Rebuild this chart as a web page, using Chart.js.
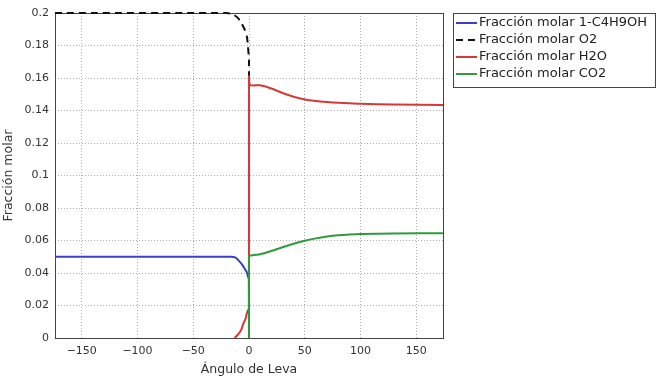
<!DOCTYPE html>
<html>
<head>
<meta charset="utf-8">
<script src="https://cdn.jsdelivr.net/npm/chart.js@4"></script>
<style>
  body { margin: 0; background: #fff; }
</style>
</head>
<body>
<canvas id="chart" width="657" height="379"></canvas>
<script>
// Datos (ángulo de leva vs fracción molar)
const butanolX = [-174, -16, -12, -9, -6, -4, -2, -1, 0, 0];
const butanolY = [0.05, 0.05, 0.0495, 0.0475, 0.045, 0.0428, 0.0405, 0.038, 0.036, 0];

const o2X = [-174, -20, -14, -10, -7, -4, -2, -1, 0, 0];
const o2Y = [0.2, 0.2, 0.199, 0.197, 0.194, 0.19, 0.186, 0.18, 0.17, 0];

const h2oX = [-13, -10, -7, -5, -3, -2, -1, 0, 0, 1, 10, 20, 30, 40, 50, 60, 70, 80, 90, 100, 130, 174];
const h2oY = [0, 0.002, 0.005, 0.009, 0.012, 0.015, 0.017, 0.018, 0.161, 0.1557, 0.1555, 0.1535, 0.1508, 0.1485, 0.1468, 0.1458, 0.1452, 0.1448, 0.1444, 0.1441, 0.1437, 0.1434];

const co2X = [0, 0, 2, 10, 20, 30, 40, 50, 60, 70, 80, 90, 100, 130, 174];
const co2Y = [0, 0.0505, 0.0508, 0.0515, 0.0535, 0.0558, 0.058, 0.0598, 0.0613, 0.0624, 0.0632, 0.0637, 0.064, 0.0643, 0.0645];

const seriesLabels = ['Fracción molar 1-C4H9OH', 'Fracción molar O2', 'Fracción molar H2O', 'Fracción molar CO2'];
const seriesColors = ['#3b3fc4', '#111111', '#d23a3a', '#2f9a3e'];
const xTicks = [-150, -100, -50, 0, 50, 100, 150];

function toPoints(xs, ys) {
    return xs.map((x, i) => ({ x: x, y: ys[i] }));
}

const FONT = { family: '"DejaVu Sans", sans-serif', size: 11 };
const TITLE_FONT = { family: '"DejaVu Sans", sans-serif', size: 12.5 };

// marco del área de trazado (debajo de las curvas)
const framePlugin = {
    id: 'frame',
    beforeDatasetsDraw(chart) {
        const ctx = chart.ctx;
        const a = chart.chartArea;
        ctx.save();
        ctx.strokeStyle = '#444';
        ctx.lineWidth = 1;
        ctx.strokeRect(a.left + 0.5, a.top + 0.5, a.right - a.left, a.bottom - a.top);
        ctx.restore();
    },
    // leyenda dibujada a mano
    afterDraw(chart) {
        const ctx = chart.ctx;
        const lx = 453, ly = 13, lw = 202, lh = 74;
        ctx.save();
        ctx.fillStyle = '#fff';
        ctx.fillRect(lx, ly, lw, lh);
        ctx.strokeStyle = '#444';
        ctx.lineWidth = 1;
        ctx.strokeRect(lx + 0.5, ly + 0.5, lw, lh);
        ctx.font = '13px "DejaVu Sans", sans-serif';
        ctx.textBaseline = 'middle';
        chart.data.datasets.forEach((ds, i) => {
            const y = ly + 10 + i * 17;
            ctx.strokeStyle = ds.borderColor;
            ctx.lineWidth = 2;
            ctx.setLineDash(ds.borderDash || []);
            ctx.beginPath();
            ctx.moveTo(lx + 3, y);
            ctx.lineTo(lx + 24, y);
            ctx.stroke();
            ctx.setLineDash([]);
            ctx.fillStyle = '#222';
            ctx.fillText(ds.label, lx + 26, y);
        });
        ctx.restore();
    }
};

const datasets = [
    { label: seriesLabels[0], data: toPoints(butanolX, butanolY), borderColor: seriesColors[0], order: 3 },
    { label: seriesLabels[1], data: toPoints(o2X, o2Y), borderColor: seriesColors[1], borderDash: [7, 5], order: 2 },
    { label: seriesLabels[2], data: toPoints(h2oX, h2oY), borderColor: seriesColors[2], order: 1 },
    { label: seriesLabels[3], data: toPoints(co2X, co2Y), borderColor: seriesColors[3], order: 0 }
].map(ds => Object.assign({ borderWidth: 2, pointRadius: 0, tension: 0.2, fill: false, clip: 2 }, ds));

new Chart(document.getElementById('chart'), {
    type: 'line',
    data: { datasets },
    plugins: [framePlugin],
    options: {
        responsive: false,
        devicePixelRatio: 1,
        animation: false,
        layout: { padding: { top: 13, right: 214, left: 0, bottom: 0 } },
        plugins: { legend: { display: false }, tooltip: { enabled: false } },
        scales: {
            x: {
                type: 'linear',
                min: -174,
                max: 174,
                afterFit(scale) { scale.height = 41; },
                afterBuildTicks(scale) { scale.ticks = xTicks.map(v => ({ value: v })); },
                ticks: { font: FONT, color: '#333', padding: 7, maxRotation: 0,
                         callback: v => String(v).replace('-', '\u2212') },
                grid: { color: '#aaa', drawTicks: false },
                border: { display: false, dash: [1, 2] },
                title: { display: true, text: 'Ángulo de Leva', font: TITLE_FONT, color: '#333', padding: { top: 0, bottom: 2 } }
            },
            y: {
                min: 0,
                max: 0.2,
                afterFit(scale) { scale.width = 55; },
                ticks: { stepSize: 0.02, font: FONT, color: '#333', padding: 6,
                         callback: v => String(+v.toFixed(2)) },
                grid: { color: '#aaa', drawTicks: false },
                border: { display: false, dash: [1, 2] },
                title: { display: true, text: 'Fracción molar', font: TITLE_FONT, color: '#333', padding: { top: 1, bottom: 0 } }
            }
        }
    }
});
</script>
</body>
</html>
